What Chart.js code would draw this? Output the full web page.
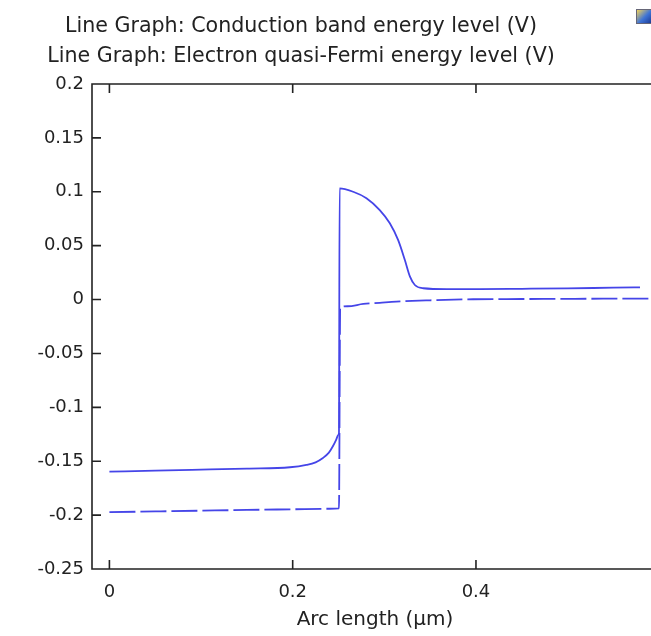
<!DOCTYPE html>
<html>
<head>
<meta charset="utf-8">
<script src="https://cdn.jsdelivr.net/npm/chart.js"></script>
<style>
  body { margin: 0; background: #fff; }
  #wrap { position: relative; width: 651px; height: 636px; overflow: hidden; }
  #icon { position: absolute; left: 636px; top: 9px; width: 14px; height: 13px;
          background: linear-gradient(135deg, #f3d35a 0%, #3f74d6 55%, #1c3c96 100%); border: 1px solid #667; }
</style>
</head>
<body>
<div id="wrap">
  <canvas id="myChart" width="651" height="636"></canvas>
  <div id="icon"></div>
</div>
<script>
var titleLines = ['Line Graph: Conduction band energy level (V)', 'Line Graph: Electron quasi-Fermi energy level (V)']
var xTitle = 'Arc length (\u00b5m)'

// conduction band (solid)
var bandX = [0, 0.05, 0.09, 0.15, 0.197, 0.215, 0.225, 0.233, 0.2395, 0.2437, 0.2475, 0.2497, 0.2505,
  0.2512, 0.266, 0.2805, 0.295, 0.306, 0.315, 0.3224, 0.328, 0.3333, 0.3424, 0.368, 0.404, 0.45, 0.5, 0.55, 0.579]
var bandY = [-0.1597, -0.1588, -0.158, -0.1568, -0.1556, -0.1534, -0.151, -0.147, -0.142, -0.1364, -0.130, -0.1256, -0.124,
  0.1032, 0.100, 0.094, 0.083, 0.0708, 0.0553, 0.0367, 0.0213, 0.0135, 0.0105, 0.0097, 0.0097, 0.0100, 0.0104, 0.0110, 0.0113]

// electron quasi-Fermi level (dashed)
var fermiX = [0, 0.05, 0.1, 0.15, 0.2, 0.24, 0.2505, 0.2518, 0.26, 0.277, 0.295, 0.313, 0.35, 0.397, 0.45, 0.5, 0.55, 0.59]
var fermiY = [-0.1973, -0.1966, -0.1959, -0.1952, -0.1946, -0.1941, -0.1937, -0.0075, -0.0062, -0.0041, -0.003, -0.0019,
  -0.0007, 0.0003, 0.0005, 0.0007, 0.0008, 0.0009]

var xMin = -0.019, xMax = 0.591, xStep = 0.2
var yMin = -0.25, yMax = 0.2, yStep = 0.05

function pts(xs, ys) {
  return xs.map((x, i) => ({x: x, y: ys[i]}))
}

const lineColor = '#4545e8'
const ink = '#222'
const fontName = 'DejaVu Sans'

// frame, inward ticks and titles
const frame = {
  id: 'frame',
  afterDatasetsDraw(chart) {
    const {ctx, chartArea: a, scales} = chart
    ctx.save()
    ctx.strokeStyle = ink
    ctx.lineWidth = 1.6
    ctx.beginPath()
    ctx.moveTo(a.right + 2, a.top)
    ctx.lineTo(a.left, a.top)
    ctx.lineTo(a.left, a.bottom)
    ctx.lineTo(a.right + 2, a.bottom)
    scales.x.ticks.forEach((t, i) => {
      const px = scales.x.getPixelForTick(i)
      ctx.moveTo(px, a.bottom); ctx.lineTo(px, a.bottom - 9)
      ctx.moveTo(px, a.top); ctx.lineTo(px, a.top + 9)
    })
    scales.y.ticks.forEach((t, i) => {
      const py = scales.y.getPixelForTick(i)
      ctx.moveTo(a.left, py); ctx.lineTo(a.left + 9, py)
    })
    ctx.stroke()

    ctx.fillStyle = ink
    ctx.font = '20.6px "' + fontName + '"'
    ctx.textAlign = 'center'
    ctx.textBaseline = 'middle'
    ctx.fillText(titleLines[0], 301, 27)
    ctx.fillText(titleLines[1], 301, 57)
    ctx.font = '20px "' + fontName + '"'
    ctx.fillText(xTitle, 375, 620)
    ctx.restore()
  }
}

const ctx = document.getElementById('myChart')

new Chart(ctx, {
  type: 'scatter',
  data: {
    datasets: [{
      label: titleLines[0],
      data: pts(bandX, bandY),
      showLine: true,
      borderColor: lineColor,
      borderWidth: 1.8,
      pointRadius: 0,
      cubicInterpolationMode: 'monotone'
    }, {
      label: titleLines[1],
      data: pts(fermiX, fermiY),
      showLine: true,
      borderColor: lineColor,
      borderWidth: 1.8,
      borderDash: [26, 5],
      pointRadius: 0,
      cubicInterpolationMode: 'monotone'
    }]
  },
  options: {
    responsive: false,
    animation: false,
    layout: { padding: { top: 84, left: 0, right: 0, bottom: 0 } },
    plugins: {
      legend: { display: false },
      tooltip: { enabled: false }
    },
    scales: {
      x: {
        type: 'linear',
        min: xMin,
        max: xMax,
        grid: { display: false },
        border: { display: false },
        ticks: {
          stepSize: xStep,
          includeBounds: false,
          color: ink,
          padding: 5,
          maxRotation: 0,
          font: { family: fontName, size: 18 },
          callback: v => String(+v.toFixed(2))
        },
        afterFit: s => { s.height = 67 }
      },
      y: {
        min: yMin,
        max: yMax,
        grid: { display: false },
        border: { display: false },
        ticks: {
          stepSize: yStep,
          color: ink,
          padding: 0,
          font: { family: fontName, size: 18 },
          callback: v => String(+v.toFixed(2))
        },
        afterFit: s => { s.width = 92 }
      }
    }
  },
  plugins: [frame]
})
</script>
</body>
</html>
